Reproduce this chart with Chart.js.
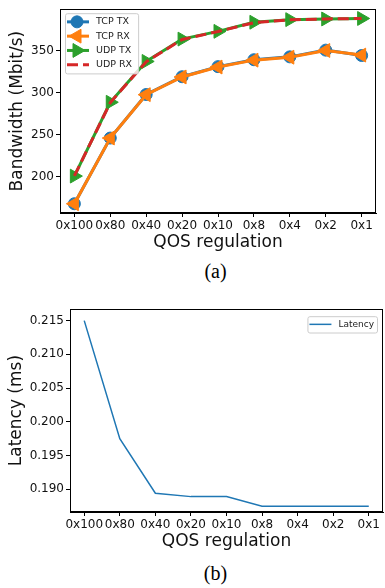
<!DOCTYPE html>
<html lang="en">
<head>
<meta charset="UTF-8">
<title>QOS regulation - bandwidth and latency</title>
<script src="https://cdn.jsdelivr.net/npm/chart.js"></script>
<style>
  body {
    margin: 0;
    background: #fff;
    width: 385px;
    height: 588px;
    position: relative;
    overflow: hidden;
  }
  canvas { position: absolute; left: 0; }
  #chartA { top: 0; }
  #chartB { top: 300px; }
  .cap {
    position: absolute;
    left: 165px;
    width: 101px;
    text-align: center;
    font-family: 'Liberation Serif', serif;
    font-size: 20px;
    line-height: 24px;
    color: #000;
  }
</style>
</head>
<body>
  <canvas id="chartA" width="385" height="253"></canvas>
  <div class="cap" style="top:259px">(a)</div>
  <canvas id="chartB" width="385" height="252"></canvas>
  <div class="cap" style="top:561px">(b)</div>

<script>
const qosLabels = ['0x100', '0x80', '0x40', '0x20', '0x10', '0x8', '0x4', '0x2', '0x1'];

// bandwidth, Mbit/s
const tcpTx = [168, 246, 297.7, 318.8, 330.8, 339, 342.4, 350.4, 344];
const tcpRx = [168, 246, 297.5, 318.5, 330.3, 338.5, 342, 350, 344.5];
const udpTx = [200.8, 288.5, 337, 363.5, 372.7, 383.5, 386.6, 387.4, 388];
const udpRx = [201, 288, 336.5, 363, 372.5, 383, 386.5, 387.4, 388];
const bwTicks = [200, 250, 300, 350];

// latency, ms
const latency = [0.2150, 0.1975, 0.1894, 0.1889, 0.1889, 0.18746, 0.18746, 0.18746, 0.18746];
const latTicks = [0.190, 0.195, 0.200, 0.205, 0.210, 0.215];

Chart.defaults.font.family = "'DejaVu Sans', sans-serif";
Chart.defaults.color = '#111';

const pts = ys => ys.map((y, i) => ({ x: i, y: y }));

// matplotlib style box around the plot
const frame = {
  id: 'frame',
  afterDraw(chart) {
    const a = chart.chartArea, ctx = chart.ctx;
    ctx.save();
    ctx.strokeStyle = '#000';
    ctx.lineWidth = 1;
    ctx.strokeRect(Math.round(a.left) + 0.5, Math.round(a.top) + 0.5,
      Math.round(a.right - a.left) - 1, Math.round(a.bottom - a.top) - 1);
    ctx.restore();
  }
};

// legend drawn inside the plot area
const boxLegend = {
  id: 'boxLegend',
  afterDatasetsDraw(chart, args, opts) {
    const ctx = chart.ctx, area = chart.chartArea;
    const sets = chart.data.datasets;
    ctx.save();
    ctx.font = opts.fontSize + "px 'DejaVu Sans'";
    const tw = Math.max(...sets.map(d => ctx.measureText(d.label).width));
    const w = 31 + tw + opts.padRight;
    const h = opts.rowH * sets.length + opts.padY * 2;
    const x = opts.align === 'right' ? area.right - opts.dx - w : area.left + opts.dx;
    const y = area.top + opts.dy;

    ctx.beginPath();
    ctx.roundRect(x + 0.5, y + 0.5, w, h, 2);
    ctx.fillStyle = 'rgba(255,255,255,0.8)';
    ctx.fill();
    ctx.strokeStyle = '#cccccc';
    ctx.lineWidth = 1;
    ctx.stroke();

    sets.forEach((d, i) => {
      const cy = y + opts.padY + opts.rowH * (i + 0.5);
      ctx.beginPath();
      ctx.strokeStyle = d.borderColor;
      ctx.lineWidth = d.borderWidth;
      ctx.setLineDash(d.borderDash || []);
      ctx.moveTo(x + 2, cy);
      ctx.lineTo(x + 24, cy);
      ctx.stroke();
      ctx.setLineDash([]);
      if (d.pointRadius > 0) {
        ctx.fillStyle = d.backgroundColor;
        ctx.strokeStyle = d.borderColor;
        ctx.lineWidth = 1;
        Chart.helpers.drawPoint(ctx, {
          pointStyle: d.pointStyle,
          rotation: d.pointRotation || 0,
          radius: d.pointRadius,
          borderWidth: 1
        }, x + 12, cy);
      }
      ctx.fillStyle = '#222';
      ctx.textBaseline = 'middle';
      ctx.textAlign = 'left';
      ctx.fillText(d.label, x + 31, cy);
    });
    ctx.restore();
  }
};

function xAxis(height) {
  return {
    type: 'linear',
    min: -0.4,
    max: 8.4,
    afterBuildTicks: s => { s.ticks = qosLabels.map((_, i) => ({ value: i })); },
    afterFit: s => { s.height = height; },
    ticks: {
      autoSkip: false, maxRotation: 0, padding: 2,
      font: { size: 12 }, color: '#111',
      callback: v => qosLabels[v]
    },
    grid: { drawOnChartArea: false, drawTicks: true, tickLength: 4, color: '#000' },
    border: { display: true, color: '#000', width: 1 },
    title: { display: true, text: 'QOS regulation', color: '#111', font: { size: 17 }, padding: { top: 0, bottom: 0 } }
  };
}

function yAxis(opts) {
  return {
    min: opts.min,
    max: opts.max,
    afterBuildTicks: s => { s.ticks = opts.ticks.map(v => ({ value: v })); },
    afterFit: s => { s.width = opts.width; },
    ticks: { padding: 2, font: { size: 12 }, color: '#111', callback: opts.fmt },
    grid: { drawOnChartArea: false, drawTicks: true, tickLength: 4, color: '#000' },
    border: { display: true, color: '#000', width: 1 },
    title: { display: true, text: opts.title, color: '#111', font: { size: 17 }, padding: { top: opts.titlePad } }
  };
}

function bwSet(label, data, color, style, rot, r, order, dash) {
  return {
    label: label,
    data: pts(data),
    borderColor: color,
    backgroundColor: color,
    borderWidth: 3,
    borderDash: dash || [],
    pointStyle: style,
    pointRotation: rot,
    pointRadius: r,
    pointBorderWidth: 1,
    tension: 0,
    order: order
  };
}

new Chart(document.getElementById('chartA'), {
  type: 'line',
  data: {
    datasets: [
      bwSet('TCP TX', tcpTx, '#1f77b4', 'circle', 0, 6, 4),
      bwSet('TCP RX', tcpRx, '#ff7f0e', 'triangle', -90, 8, 3),
      bwSet('UDP TX', udpTx, '#2ca02c', 'triangle', 90, 8, 2),
      bwSet('UDP RX', udpRx, '#d62728', 'circle', 0, 0, 1, [11, 5])
    ]
  },
  options: {
    responsive: false,
    animation: false,
    events: [],
    layout: { padding: { top: 3, right: 1, left: 0, bottom: 0 } },
    plugins: {
      legend: { display: false },
      tooltip: { enabled: false },
      boxLegend: { align: 'left', dx: 5, dy: 4, fontSize: 9.5, rowH: 14.3, padY: 1.5, padRight: 6 }
    },
    scales: {
      x: xAxis(40),
      y: yAxis({ min: 157, max: 399, ticks: bwTicks, width: 60, title: 'Bandwidth (Mbit/s)', titlePad: 7, fmt: v => v })
    }
  },
  plugins: [frame, boxLegend]
});

new Chart(document.getElementById('chartB'), {
  type: 'line',
  data: {
    datasets: [{
      label: 'Latency',
      data: pts(latency),
      borderColor: '#1f77b4',
      backgroundColor: '#1f77b4',
      borderWidth: 1.5,
      pointRadius: 0,
      tension: 0
    }]
  },
  options: {
    responsive: false,
    animation: false,
    events: [],
    layout: { padding: { top: 7, right: 2, left: 0, bottom: 0 } },
    plugins: {
      legend: { display: false },
      tooltip: { enabled: false },
      boxLegend: { align: 'right', dx: 6, dy: 7, fontSize: 9, rowH: 14.3, padY: 1, padRight: 3 }
    },
    scales: {
      x: xAxis(40),
      y: yAxis({ min: 0.18662, max: 0.21669, ticks: latTicks, width: 70, title: 'Latency (ms)', titlePad: 6, fmt: v => v.toFixed(3) })
    }
  },
  plugins: [frame, boxLegend]
});
</script>
</body>
</html>
